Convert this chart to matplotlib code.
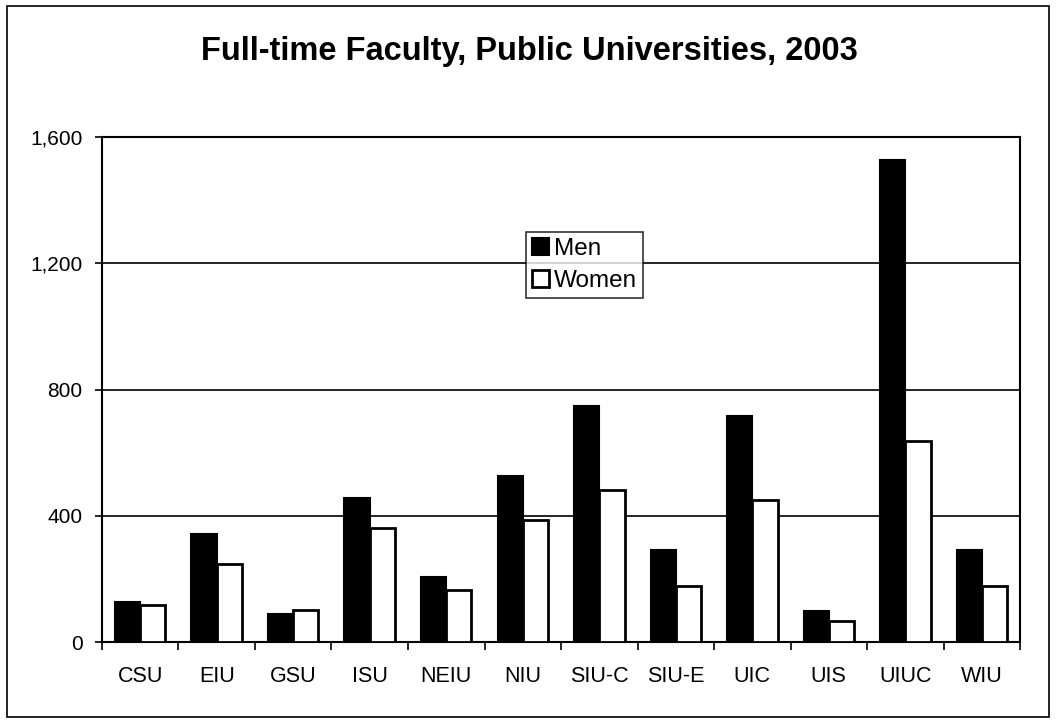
import numpy as np
import matplotlib
matplotlib.use("Agg")
import matplotlib.pyplot as plt
from matplotlib.patches import Rectangle

plt.rcParams['font.family'] = ['Liberation Sans', 'DejaVu Sans']

schools = ['CSU', 'EIU', 'GSU', 'ISU', 'NEIU', 'NIU', 'SIU-C', 'SIU-E', 'UIC', 'UIS', 'UIUC', 'WIU']
men = [128, 342, 88, 455, 207, 527, 747, 291, 716, 99, 1527, 291]
women = [117, 247, 101, 360, 165, 387, 481, 177, 450, 67, 637, 177]
yticks = [0, 400, 800, 1200, 1600]
ytick_labels = ['0', '400', '800', '1,200', '1,600']

fig = plt.figure(figsize=(10.59, 7.2), dpi=100)
ax = fig.add_axes([0.0963, 0.1083, 0.8669, 0.7014])

# outer chart border
fig.patches.append(Rectangle((0.007, 0.004), 0.984, 0.988, transform=fig.transFigure,
                             fill=False, edgecolor='black', linewidth=1.2))

x = np.arange(len(schools))
w = 0.33
ax.bar(x - w / 2, men, w, color='black', edgecolor='black', linewidth=1.5, label='Men', zorder=3)
ax.bar(x + w / 2, women, w, color='white', edgecolor='black', linewidth=2, label='Women', zorder=3)

ax.set_xlim(-0.5, len(schools) - 0.5)
ax.set_ylim(0, 1600)
ax.set_yticks(yticks)
ax.set_yticklabels(ytick_labels, fontsize=15)
ax.yaxis.grid(True, color='black', linewidth=1.2, zorder=0)

# category labels centred, ticks on category boundaries
ax.set_xticks(x)
ax.set_xticklabels(schools, fontsize=15.5)
ax.tick_params(axis='x', length=0, pad=17)
ax.set_xticks(np.arange(len(schools) + 1) - 0.5, minor=True)
ax.tick_params(axis='x', which='minor', length=6, width=1.2, direction='out')
ax.tick_params(axis='y', length=5, width=1.2, direction='out', pad=9)

for s in ax.spines.values():
    s.set_linewidth(1.5)

leg = ax.legend(loc='upper left', bbox_to_anchor=(0.462, 0.812), fontsize=17.5,
                frameon=True, fancybox=False, edgecolor='black', borderpad=0.25,
                handlelength=0.7, handleheight=0.7, handletextpad=0.2, labelspacing=0.4,
                borderaxespad=0)
leg.get_frame().set_linewidth(1.2)

fig.text(0.5, 0.929, 'Full-time Faculty, Public Universities, 2003', ha='center', va='center',
         fontsize=23.5, fontweight='bold')

fig.savefig('out.png', dpi=100)
